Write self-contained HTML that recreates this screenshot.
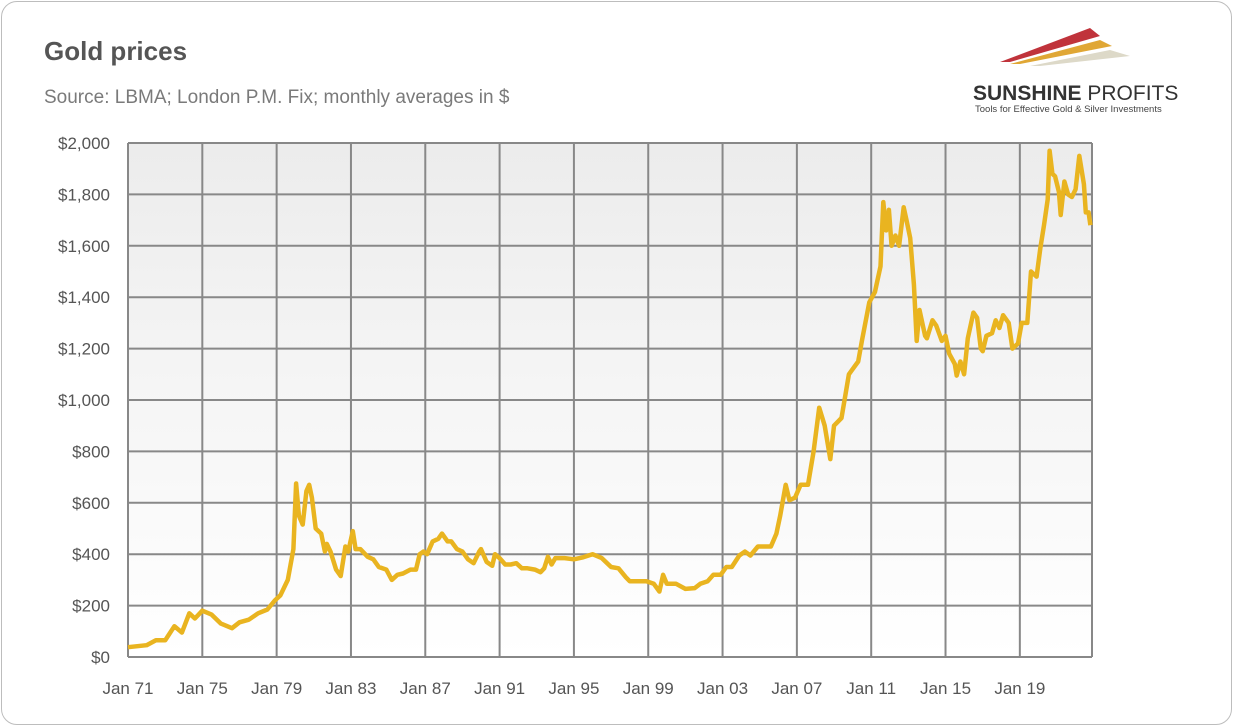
<!DOCTYPE html>
<html><head><meta charset="utf-8"><style>
body{margin:0;background:#fff;font-family:"Liberation Sans",sans-serif}
#wrap{position:absolute;left:1px;top:1px;width:1229px;height:722px;border:1.5px solid #bdbdbd;border-radius:16px;background:#fff}
svg{position:absolute;left:0;top:0}
</style></head><body>
<div id="wrap"></div>
<svg id="c" width="1233" height="726">
<defs><linearGradient id="bg" x1="0" y1="0" x2="0" y2="1"><stop offset="0" stop-color="#ececec"/><stop offset="1" stop-color="#ffffff"/></linearGradient></defs>
<text x="44" y="60" font-size="26" font-weight="bold" fill="#555">Gold prices</text>
<text x="44" y="103" font-size="19" fill="#7a7a7a">Source: LBMA; London P.M. Fix; monthly averages in $</text>
<g>
<polygon points="1000,62 1090,28 1100,36 1010,62" fill="#c0333b"/>
<polygon points="1010,64 1100,40 1112,46 1020,64" fill="#e0a735"/>
<polygon points="1030,66 1110,50 1130,56 1040,66" fill="#ddd9c8"/>
<text x="973" y="100" font-size="21" font-weight="bold" fill="#333">SUNSHINE <tspan font-weight="normal">PROFITS</tspan></text>
<text x="975" y="112" font-size="9.5" fill="#444">Tools for Effective Gold &amp; Silver Investments</text>
</g>
<g id="plot"></g>
</svg>
<script>
const years=[1971.0,1972.0,1972.5,1973.0,1973.5,1973.9,1974.3,1974.6,1975.0,1975.5,1976.0,1976.6,1977.0,1977.5,1978.0,1978.5,1978.9,1979.2,1979.6,1979.9,1980.05,1980.2,1980.4,1980.6,1980.75,1980.9,1981.1,1981.4,1981.6,1981.7,1981.9,1982.2,1982.45,1982.7,1982.85,1983.1,1983.25,1983.5,1983.9,1984.2,1984.5,1984.9,1985.2,1985.5,1985.8,1986.2,1986.5,1986.7,1986.9,1987.1,1987.4,1987.7,1987.9,1988.2,1988.4,1988.7,1989.0,1989.3,1989.6,1989.9,1990.0,1990.3,1990.6,1990.75,1991.0,1991.3,1991.6,1991.9,1992.2,1992.5,1992.9,1993.2,1993.4,1993.6,1993.8,1994.0,1994.5,1995.0,1995.5,1996.0,1996.5,1997.0,1997.4,1997.8,1998.0,1998.5,1998.9,1999.3,1999.6,1999.8,2000.0,2000.5,2001.0,2001.5,2001.8,2002.2,2002.5,2002.9,2003.2,2003.5,2003.9,2004.2,2004.5,2004.9,2005.2,2005.6,2005.9,2006.1,2006.4,2006.6,2006.9,2007.2,2007.6,2007.9,2008.2,2008.5,2008.8,2009.0,2009.4,2009.8,2010.0,2010.3,2010.5,2010.9,2011.2,2011.5,2011.65,2011.8,2011.95,2012.1,2012.3,2012.5,2012.75,2012.9,2013.1,2013.3,2013.45,2013.6,2013.9,2014.0,2014.3,2014.5,2014.8,2015.0,2015.2,2015.5,2015.6,2015.8,2016.0,2016.2,2016.5,2016.7,2016.9,2017.0,2017.2,2017.5,2017.7,2017.9,2018.1,2018.4,2018.6,2018.9,2019.1,2019.4,2019.6,2019.9,2020.1,2020.3,2020.5,2020.6,2020.75,2020.9,2021.1,2021.2,2021.4,2021.6,2021.8,2022.0,2022.2,2022.45,2022.55,2022.7,2022.8];
const prices=[38,46,65,65,120,95,170,150,180,165,130,112,135,145,170,185,220,240,300,420,675,550,515,645,670,620,500,480,410,440,410,340,315,430,410,490,420,420,390,380,350,340,300,320,325,340,340,400,410,400,450,460,480,450,450,420,410,380,365,410,420,370,355,400,385,360,360,365,345,345,340,330,345,390,360,385,385,380,388,400,385,350,345,310,295,295,295,285,255,320,285,285,265,268,285,295,320,320,350,350,395,410,395,430,430,430,480,550,670,610,620,670,670,800,970,900,770,900,930,1100,1120,1150,1230,1380,1420,1520,1770,1660,1740,1600,1640,1600,1750,1700,1630,1450,1230,1350,1250,1240,1310,1290,1230,1250,1180,1140,1095,1150,1100,1240,1340,1320,1200,1190,1250,1260,1310,1280,1330,1300,1200,1220,1300,1300,1500,1480,1590,1680,1780,1970,1880,1870,1810,1720,1850,1800,1790,1820,1950,1840,1730,1730,1680];
const yTicks=[0,200,400,600,800,1000,1200,1400,1600,1800,2000];
const xTickYears=[1971,1975,1979,1983,1987,1991,1995,1999,2003,2007,2011,2015,2019];
const xTickLabels=["Jan 71","Jan 75","Jan 79","Jan 83","Jan 87","Jan 91","Jan 95","Jan 99","Jan 03","Jan 07","Jan 11","Jan 15","Jan 19"];
const L=128,R=1092,T=143,B=657;
const xs=y=>L+(y-1971)*18.58;
const ys=v=>B-(v/2000)*(B-T);
const NS="http://www.w3.org/2000/svg";
const g=document.getElementById('plot');
function mk(t,a){const e=document.createElementNS(NS,t);for(const k in a)e.setAttribute(k,a[k]);g.appendChild(e);return e;}
const bg=mk('rect',{x:L,y:T,width:R-L,height:B-T,fill:'url(#bg)'});


yTicks.forEach(v=>{
 const ln=mk('line',{x1:L,x2:R,y1:ys(v),y2:ys(v),stroke:'#888','stroke-width':2});
 
 
 const t=mk('text',{x:110,y:ys(v)+6,'text-anchor':'end','font-size':17,fill:'#555'});
 t.textContent='$'+v.toLocaleString('en-US');
 
 
});
xTickYears.forEach((yr,i)=>{
 const ln=mk('line',{x1:xs(yr),x2:xs(yr),y1:T,y2:B,stroke:'#888','stroke-width':2});
 
 
 const t=mk('text',{x:xs(yr),y:694,'text-anchor':'middle','font-size':17,fill:'#555'});
 t.textContent=xTickLabels[i];
 
 
});
const rl=mk('line',{x1:R,x2:R,y1:T,y2:B,stroke:'#888','stroke-width':2});


const d=years.map((y,i)=>(i?'L':'M')+xs(y).toFixed(1)+','+ys(prices[i]).toFixed(1)).join('');
const p=mk('path',{d:d,fill:'none',stroke:'#e9b420','stroke-width':4.5,'stroke-linejoin':'round'});


</script>
</body></html>
